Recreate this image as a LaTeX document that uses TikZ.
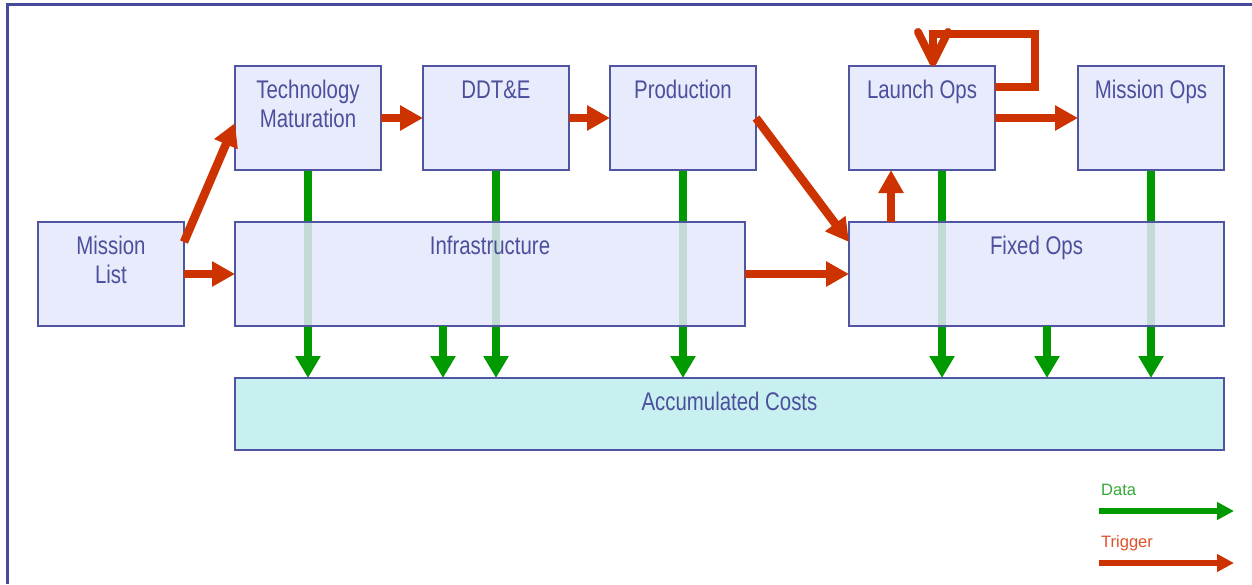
\documentclass[tikz,border=0pt]{standalone}
\usepackage{fontspec}
\setmainfont{Liberation Sans}
\newfontfamily\condfont[FakeStretch=0.8]{Liberation Sans}
\usetikzlibrary{arrows.meta,calc}
\definecolor{boxfill}{HTML}{E4E8FB}
\definecolor{bord}{HTML}{4F55A0}
\definecolor{frm}{HTML}{454A9A}
\definecolor{txt}{HTML}{4C4F9C}
\definecolor{accfill}{HTML}{C8F0F0}
\definecolor{trigred}{HTML}{CC3300}
\definecolor{datagreen}{HTML}{009900}
\definecolor{datatxt}{HTML}{33AA33}
\definecolor{trigtxt}{HTML}{E0502A}
\tikzset{
  box/.style={draw=bord, line width=2pt, fill=boxfill, fill opacity=0.85, anchor=north west, inner sep=0pt, outer sep=0pt},
  lbl/.style={text=txt, font=\condfont\fontsize{25.5}{28.5}\selectfont, align=center, anchor=base, inner sep=0pt},
  trig/.style={draw=trigred, line width=8.5pt, -{Triangle[length=23pt,width=24pt]}},
  data/.style={draw=datagreen, line width=7.5pt, -{Triangle[length=22pt,width=24pt]}},
  legtxt/.style={font=\fontsize{16.5}{19}\selectfont, anchor=base west, inner sep=0pt},
}
\begin{document}
\begin{tikzpicture}[x=1pt,y=-1pt]
\useasboundingbox (0,0) rectangle (1252,584);
\draw[frm, line width=3pt] (7,584) -- (7,4) -- (1252,4);

\path (235,66) coordinate (tmNW) (423,66) coordinate (ddNW) (610,66) coordinate (prNW)
      (849,66) coordinate (loNW) (1078,66) coordinate (moNW);

\node[box, draw=none, fill=none, minimum width=146pt, minimum height=104pt] (tm) at (tmNW) {};
\node[box, draw=none, fill=none, minimum width=146pt, minimum height=104pt] (dd) at (ddNW) {};
\node[box, draw=none, fill=none, minimum width=146pt, minimum height=104pt] (pr) at (prNW) {};
\node[box, draw=none, fill=none, minimum width=146pt, minimum height=104pt] (lo) at (loNW) {};
\node[box, draw=none, fill=none, minimum width=146pt, minimum height=104pt] (mo) at (moNW) {};
\node[box, draw=none, fill=none, minimum width=989pt, minimum height=72pt] (ac) at (235,378) {};

\draw[data] (tm.south) -- (tm.south |- ac.north);
\draw[data] (dd.south) -- (dd.south |- ac.north);
\draw[data] (pr.south) -- (pr.south |- ac.north);
\draw[data] ([xshift=20pt]lo.south) -- ([xshift=20pt]lo.south |- ac.north);
\draw[data] (mo.south) -- (mo.south |- ac.north);

\node[box, minimum width=146pt, minimum height=104pt] (ml) at (38,222) {};
\node[box, minimum width=146pt, minimum height=104pt] at (tmNW) {};
\node[box, minimum width=146pt, minimum height=104pt] at (ddNW) {};
\node[box, minimum width=146pt, minimum height=104pt] at (prNW) {};
\node[box, minimum width=146pt, minimum height=104pt] at (loNW) {};
\node[box, minimum width=146pt, minimum height=104pt] at (moNW) {};
\node[box, minimum width=510pt, minimum height=104pt] (inf) at (235,222) {};
\node[box, minimum width=375pt, minimum height=104pt] (fo) at (849,222) {};
\node[box, fill=accfill, fill opacity=1, minimum width=989pt, minimum height=72pt] at (235,378) {};

\node[lbl] (mlt) at ([yshift=-61pt]ml.north) {Mission\\List};
\node[lbl] (tmt) at ([yshift=-61pt]tm.north) {Technology\\Maturation};
\node[lbl] (ddt) at ([yshift=-32.5pt]dd.north) {DDT\&E};
\node[lbl] (prt) at ([yshift=-32.5pt]pr.north) {Production};
\node[lbl] (lot) at ([yshift=-32.5pt]lo.north) {Launch Ops};
\node[lbl] (mot) at ([yshift=-32.5pt]mo.north) {Mission Ops};
\node[lbl] (inft) at ([yshift=-32.5pt]inf.north) {Infrastructure};
\node[lbl] (fot) at ([yshift=-32.5pt]fo.north) {Fixed Ops};
\node[lbl] (act) at ([yshift=-32.5pt]ac.north) {Accumulated Costs};

\draw[data] ([xshift=-47pt]inf.south) -- ([xshift=-47pt]inf.south |- ac.north);
\draw[data] ([xshift=10.5pt]fo.south) -- ([xshift=10.5pt]fo.south |- ac.north);

\draw[trig] (ml.east) -- (inf.west);
\draw[trig] ([yshift=-20pt]ml.north east) -- ([yshift=-5pt]tm.west);
\draw[trig] (tm.east) -- (dd.west);
\draw[trig] (dd.east) -- (pr.west);
\draw[trig] (pr.east) -- ([yshift=-20pt]fo.north west);
\draw[trig] (inf.east) -- (fo.west);
\draw[trig] ([xshift=42pt]fo.north west) -- ([xshift=42pt]lo.south west);
\draw[trig] (lo.east) -- (mo.west);
\coordinate (loopc) at (1035,34);
\draw[draw=trigred, line width=8.5pt, line join=miter,
      -{Straight Barb[length=30pt,width=30pt,line width=8pt,round]}]
  ([yshift=31pt]lo.east) -| (loopc) -| ([xshift=11pt]lo.north);

\node[legtxt, text=datatxt] (ldata) at (1101,495) {Data};
\node[legtxt, text=trigtxt] (ltrig) at (1101,547) {Trigger};
\coordinate (d1) at (1099,511); \coordinate (d2) at (1234,511);
\coordinate (t1) at (1099,563); \coordinate (t2) at (1234,563);
\draw[draw=datagreen, line width=6.5pt, -{Triangle[length=17pt,width=17pt]}] (d1) -- (d2);
\draw[draw=trigred, line width=6.5pt, -{Triangle[length=17pt,width=17pt]}] (t1) -- (t2);
\end{tikzpicture}
\end{document}
